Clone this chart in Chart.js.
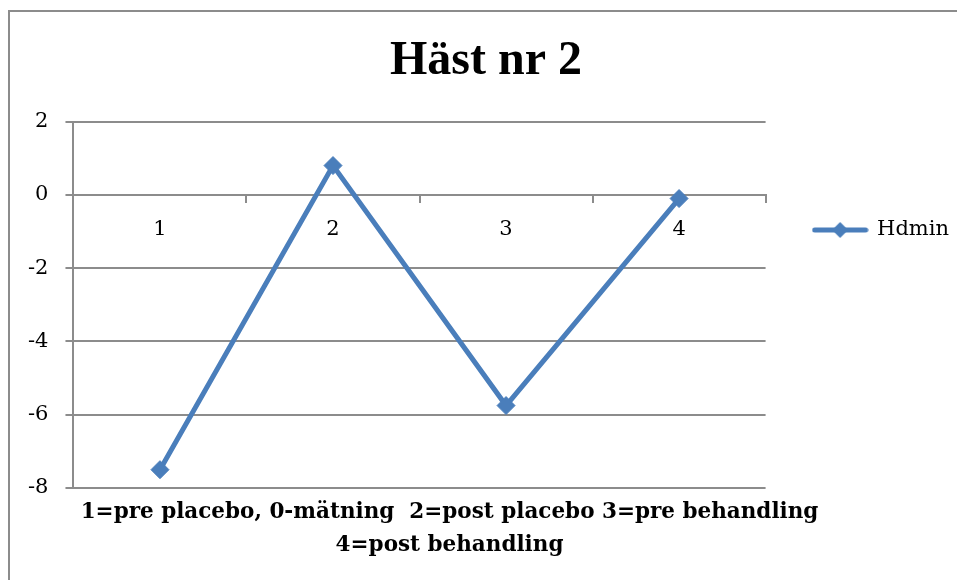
<!DOCTYPE html>
<html>
<head>
<meta charset="utf-8">
<script src="https://cdn.jsdelivr.net/npm/chart.js@4.4.1/dist/chart.umd.min.js"></script>
<style>
  body { margin: 0; background: #fff; }
  #wrap { position: relative; width: 957px; height: 580px; overflow: hidden; }
  #frame { position: absolute; left: 8px; top: 10px; width: 1000px; height: 700px; border: 2px solid #8c8c8c; }
  canvas { position: absolute; left: 0; top: 0; }
</style>
</head>
<body>
<div id="wrap">
  <div id="frame"></div>
  <canvas id="chart" width="957" height="580"></canvas>
</div>
<script>
const categories = ['1', '2', '3', '4'];
const hdmin = [-7.5, 0.8, -5.75, -0.1];
const yTicks = [-8, -6, -4, -2, 0, 2];
const xTitleLines = ['1=pre placebo, 0-mätning  2=post placebo 3=pre behandling', '4=post behandling'];

const blue = '#4a7ebb';
const gridGray = '#8c8c8c';

// legend marker: line with a diamond on it
const marker = document.createElement('canvas');
marker.width = 57;
marker.height = 20;
(() => {
    const c = marker.getContext('2d');
    c.strokeStyle = blue;
    c.lineWidth = 5;
    c.lineCap = 'round';
    c.beginPath();
    c.moveTo(3, 10);
    c.lineTo(54, 10);
    c.stroke();
    c.fillStyle = blue;
    c.beginPath();
    c.moveTo(28.5, 2);
    c.lineTo(36.5, 10);
    c.lineTo(28.5, 18);
    c.lineTo(20.5, 10);
    c.closePath();
    c.fill();
})();

// axis title below the plot, two centred lines
const xTitlePlugin = {
    id: 'xTitle',
    afterLayout(chart) {
        // move the legend and title over to where excel put them
        const lg = chart.legend;
        lg.left += 38;
        lg.right += 38;
        lg.top = 0;
        lg.bottom = 460;
        lg.height = 460;
        const tb = chart.titleBlock;
        tb.left += 20;
        tb.right += 20;
    },
    afterDraw(chart) {
        const ctx = chart.ctx;
        const area = chart.chartArea;
        const cx = (area.left + area.right) / 2 + 30;
        ctx.save();
        ctx.font = 'bold 21.5px "DejaVu Serif"';
        ctx.fillStyle = '#000';
        ctx.textAlign = 'center';
        ctx.textBaseline = 'middle';
        xTitleLines.forEach((line, i) => {
            ctx.fillText(line, cx, area.bottom + 24 + i * 33);
        });
        ctx.restore();
    }
};

Chart.defaults.font.family = '"DejaVu Serif", serif';
Chart.defaults.color = '#000';

new Chart(document.getElementById('chart'), {
    type: 'line',
    data: {
        labels: categories,
        datasets: [{
            label: 'Hdmin',
            data: hdmin,
            borderColor: blue,
            backgroundColor: blue,
            borderWidth: 5,
            pointStyle: 'rectRot',
            pointRadius: 9,
            pointBorderWidth: 1,
            pointBackgroundColor: blue,
            tension: 0
        }]
    },
    options: {
        responsive: false,
        animation: false,
        layout: { padding: { left: 11, right: 36, top: 0, bottom: 92 } },
        scales: {
            x: {
                position: { y: 0 },
                offset: true,
                grid: { offset: true, drawOnChartArea: false, drawTicks: true, tickLength: 7, color: gridGray, lineWidth: 2 },
                border: { display: true, color: gridGray, width: 2 },
                ticks: { padding: 15, font: { size: 21 } }
            },
            y: {
                min: -8,
                max: 2,
                afterBuildTicks: (scale) => { scale.ticks = yTicks.map(v => ({ value: v })); },
                grid: { color: gridGray, lineWidth: 2, tickLength: 8 },
                border: { display: true, color: gridGray, width: 2 },
                ticks: { padding: 17, font: { size: 21 } }
            }
        },
        plugins: {
            title: {
                display: true,
                text: 'Häst nr 2',
                font: { family: '"Liberation Serif", serif', size: 48, weight: 'bold' },
                color: '#000',
                padding: { top: 33, bottom: 31 }
            },
            legend: {
                position: 'right',
                labels: {
                    usePointStyle: true,
                    pointStyleWidth: 53,
                    font: { size: 21 },
                    padding: 10,
                    generateLabels: (chart) => chart.data.datasets.map((ds, i) => ({
                        text: ds.label,
                        pointStyle: marker,
                        fillStyle: blue,
                        strokeStyle: blue,
                        lineWidth: 0,
                        datasetIndex: i,
                        hidden: false
                    }))
                }
            },
            tooltip: { enabled: false }
        }
    },
    plugins: [xTitlePlugin]
});
</script>
</body>
</html>
